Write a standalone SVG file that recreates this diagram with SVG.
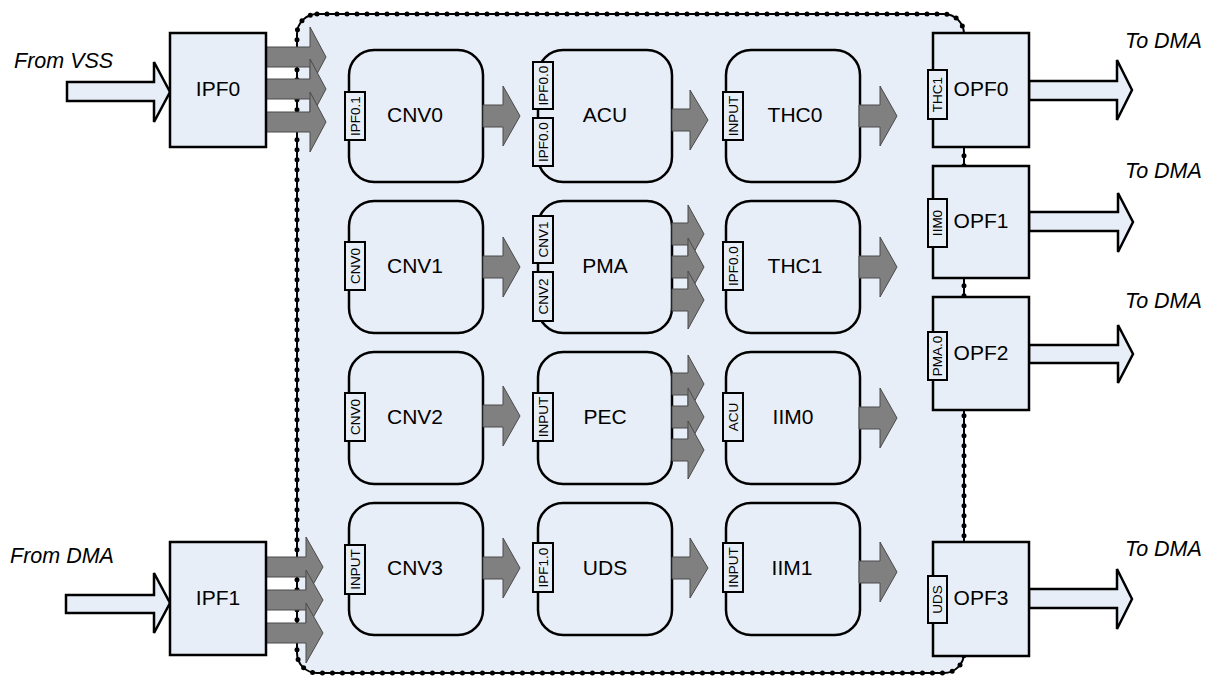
<svg xmlns="http://www.w3.org/2000/svg" width="1205" height="677" viewBox="0 0 1205 677">
<style>
.bg{fill:#E8EEF7;stroke:none}
.bd{fill:none;stroke:#000;stroke-width:2}
.bdots{fill:none;stroke:#000;stroke-width:5;stroke-linecap:round;stroke-dasharray:0 10}
.node{fill:#E8EEF7;stroke:#000;stroke-width:2.5}
.box{fill:#E8EEF7;stroke:#000;stroke-width:2.5}
.port{fill:#E8EEF7;stroke:#000;stroke-width:2}
.g{fill:#808080;stroke:#4a4a4a;stroke-width:1}
.w{fill:#E8EEF7;stroke:#000;stroke-width:2.5;stroke-linejoin:miter}
.lbl{font-family:"Liberation Sans",Arial,sans-serif;font-size:21px;fill:#000;text-anchor:middle}
.pl{font-family:"Liberation Sans",Arial,sans-serif;font-size:13.5px;fill:#000;text-anchor:middle}
.it{font-family:"Liberation Sans",Arial,sans-serif;font-size:21.5px;font-style:italic;fill:#000}
</style>

<g id="boundary">
<rect class="bg" x="297" y="14" width="667" height="659" rx="20"/>
<rect class="bd" x="297" y="14" width="667" height="659" rx="20"/>
<rect class="bdots" x="297" y="14" width="667" height="659" rx="20"/>
</g>

<g id="CNV0"><rect class="node" x="349" y="50" width="134" height="132" rx="25"/><text class="lbl" x="415" y="122">CNV0</text>
<rect class="port" x="345" y="92" width="20" height="48"/><text class="pl" transform="translate(355,116) rotate(-90)" y="4.8">IPF0.1</text></g>
<g id="ACU"><rect class="node" x="538" y="50" width="134" height="132" rx="25"/><text class="lbl" x="605" y="122">ACU</text>
<rect class="port" x="533" y="62" width="20" height="47"/><text class="pl" transform="translate(543,85.5) rotate(-90)" y="4.8">IPF0.0</text>
<rect class="port" x="533" y="118" width="20" height="48"/><text class="pl" transform="translate(543,142) rotate(-90)" y="4.8">IPF0.0</text></g>
<g id="THC0"><rect class="node" x="726" y="50" width="134" height="132" rx="25"/><text class="lbl" x="795" y="122">THC0</text>
<rect class="port" x="723" y="92" width="20" height="48"/><text class="pl" transform="translate(733,116) rotate(-90)" y="4.8">INPUT</text></g>

<g id="CNV1"><rect class="node" x="349" y="201" width="134" height="132" rx="25"/><text class="lbl" x="415" y="273">CNV1</text>
<rect class="port" x="345" y="242" width="20" height="48"/><text class="pl" transform="translate(355,266) rotate(-90)" y="4.8">CNV0</text></g>
<g id="PMA"><rect class="node" x="538" y="201" width="134" height="132" rx="25"/><text class="lbl" x="605" y="273">PMA</text>
<rect class="port" x="533" y="216" width="20" height="47"/><text class="pl" transform="translate(543,239.5) rotate(-90)" y="4.8">CNV1</text>
<rect class="port" x="533" y="272" width="20" height="49"/><text class="pl" transform="translate(543,296.5) rotate(-90)" y="4.8">CNV2</text></g>
<g id="THC1"><rect class="node" x="726" y="201" width="134" height="132" rx="25"/><text class="lbl" x="795" y="273">THC1</text>
<rect class="port" x="723" y="242" width="20" height="48"/><text class="pl" transform="translate(733,266) rotate(-90)" y="4.8">IPF0.0</text></g>

<g id="CNV2"><rect class="node" x="349" y="352" width="134" height="132" rx="25"/><text class="lbl" x="415" y="424">CNV2</text>
<rect class="port" x="345" y="393" width="20" height="48"/><text class="pl" transform="translate(355,417) rotate(-90)" y="4.8">CNV0</text></g>
<g id="PEC"><rect class="node" x="538" y="352" width="134" height="132" rx="25"/><text class="lbl" x="605" y="424">PEC</text>
<rect class="port" x="533" y="393" width="20" height="48"/><text class="pl" transform="translate(543,417) rotate(-90)" y="4.8">INPUT</text></g>
<g id="IIM0"><rect class="node" x="726" y="352" width="134" height="132" rx="25"/><text class="lbl" x="793" y="424">IIM0</text>
<rect class="port" x="723" y="393" width="20" height="48"/><text class="pl" transform="translate(733,417) rotate(-90)" y="4.8">ACU</text></g>

<g id="CNV3"><rect class="node" x="349" y="503" width="134" height="132" rx="25"/><text class="lbl" x="415" y="575">CNV3</text>
<rect class="port" x="345" y="545" width="20" height="49"/><text class="pl" transform="translate(355,569.5) rotate(-90)" y="4.8">INPUT</text></g>
<g id="UDS"><rect class="node" x="538" y="503" width="134" height="132" rx="25"/><text class="lbl" x="605" y="575">UDS</text>
<rect class="port" x="533" y="543" width="20" height="49"/><text class="pl" transform="translate(543,567.5) rotate(-90)" y="4.8">IPF1.0</text></g>
<g id="IIM1"><rect class="node" x="726" y="503" width="134" height="132" rx="25"/><text class="lbl" x="792" y="575">IIM1</text>
<rect class="port" x="723" y="543" width="20" height="49"/><text class="pl" transform="translate(733,567.5) rotate(-90)" y="4.8">INPUT</text></g>

<g id="connectors">
<path class="g" d="M266,47 L310,47 L310,27 L326,57 L310,87 L310,67 L266,67 Z"/>
<path class="g" d="M266,79 L310,79 L310,59 L326,89 L310,119 L310,99 L266,99 Z"/>
<path class="g" d="M266,112 L310,112 L310,92 L326,122 L310,152 L310,132 L266,132 Z"/>
<path class="g" d="M266,557 L306,557 L306,537 L323,567 L306,597 L306,577 L266,577 Z"/>
<path class="g" d="M266,590 L306,590 L306,570 L323,600 L306,630 L306,610 L266,610 Z"/>
<path class="g" d="M266,623 L306,623 L306,603 L323,633 L306,663 L306,643 L266,643 Z"/>
<path class="g" d="M483,105 L503,105 L503,86 L520,116 L503,146 L503,127 L483,127 Z"/>
<path class="g" d="M672,109 L690,109 L690,90 L708,120 L690,150 L690,131 L672,131 Z"/>
<path class="g" d="M859,105 L880,105 L880,86 L897,116 L880,146 L880,127 L859,127 Z"/>
<path class="g" d="M483,256 L503,256 L503,237 L520,267 L503,297 L503,278 L483,278 Z"/>
<path class="g" d="M672,223 L688,223 L688,205 L704,234 L688,263 L688,245 L672,245 Z"/>
<path class="g" d="M672,256 L688,256 L688,238 L704,267 L688,296 L688,278 L672,278 Z"/>
<path class="g" d="M672,289 L688,289 L688,271 L704,300 L688,329 L688,311 L672,311 Z"/>
<path class="g" d="M859,256 L880,256 L880,237 L897,267 L880,297 L880,278 L859,278 Z"/>
<path class="g" d="M483,405 L503,405 L503,386 L520,416 L503,446 L503,427 L483,427 Z"/>
<path class="g" d="M672,373 L688,373 L688,355 L704,384 L688,413 L688,395 L672,395 Z"/>
<path class="g" d="M672,406 L688,406 L688,388 L704,417 L688,446 L688,428 L672,428 Z"/>
<path class="g" d="M672,439 L688,439 L688,421 L704,450 L688,479 L688,461 L672,461 Z"/>
<path class="g" d="M859,407 L880,407 L880,388 L897,418 L880,448 L880,429 L859,429 Z"/>
<path class="g" d="M483,557 L503,557 L503,538 L520,568 L503,598 L503,579 L483,579 Z"/>
<path class="g" d="M672,557 L690,557 L690,538 L708,568 L690,598 L690,579 L672,579 Z"/>
<path class="g" d="M859,561 L880,561 L880,542 L897,572 L880,602 L880,583 L859,583 Z"/>
<path class="w" d="M67,82 L154,82 L154,62 L170,92 L154,122 L154,101 L67,101 Z"/>
<path class="w" d="M66,595 L154,595 L154,573 L170,603 L154,633 L154,613 L66,613 Z"/>
<path class="w" d="M1029,81 L1117,81 L1117,60 L1132,90 L1117,120 L1117,100 L1029,100 Z"/>
<path class="w" d="M1029,212 L1118,212 L1118,193 L1133,222 L1118,252 L1118,231 L1029,231 Z"/>
<path class="w" d="M1029,345 L1118,345 L1118,325 L1133,354 L1118,383 L1118,363 L1029,363 Z"/>
<path class="w" d="M1029,589 L1117,589 L1117,569 L1132,599 L1117,629 L1117,608 L1029,608 Z"/>
</g>

<g id="IPF0"><rect class="box" x="170" y="33" width="96" height="114"/><text class="lbl" x="218" y="96">IPF0</text></g>
<g id="IPF1"><rect class="box" x="170" y="542" width="96" height="113"/><text class="lbl" x="218" y="605">IPF1</text></g>

<g id="OPF0"><rect class="box" x="933" y="33" width="96" height="114"/><text class="lbl" x="981" y="96">OPF0</text>
<rect class="port" x="928" y="70" width="19" height="49"/><text class="pl" transform="translate(937.5,94.5) rotate(-90)" y="4.8">THC1</text></g>
<g id="OPF1"><rect class="box" x="933" y="166" width="96" height="112"/><text class="lbl" x="981" y="228">OPF1</text>
<rect class="port" x="928" y="199" width="19" height="48"/><text class="pl" transform="translate(937.5,223) rotate(-90)" y="4.8">IIM0</text></g>
<g id="OPF2"><rect class="box" x="933" y="297" width="96" height="113"/><text class="lbl" x="981" y="360">OPF2</text>
<rect class="port" x="928" y="332" width="19" height="48"/><text class="pl" transform="translate(937.5,356) rotate(-90)" y="4.8">PMA.0</text></g>
<g id="OPF3"><rect class="box" x="933" y="542" width="96" height="114"/><text class="lbl" x="981" y="605">OPF3</text>
<rect class="port" x="928" y="576" width="19" height="47"/><text class="pl" transform="translate(937.5,599.5) rotate(-90)" y="4.8">UDS</text></g>

<g id="labels">
<text class="it" x="14" y="68">From VSS</text>
<text class="it" x="10" y="563">From DMA</text>
<text class="it" x="1125" y="48">To DMA</text>
<text class="it" x="1125" y="178">To DMA</text>
<text class="it" x="1125" y="308">To DMA</text>
<text class="it" x="1125" y="556">To DMA</text>
</g>
</svg>
